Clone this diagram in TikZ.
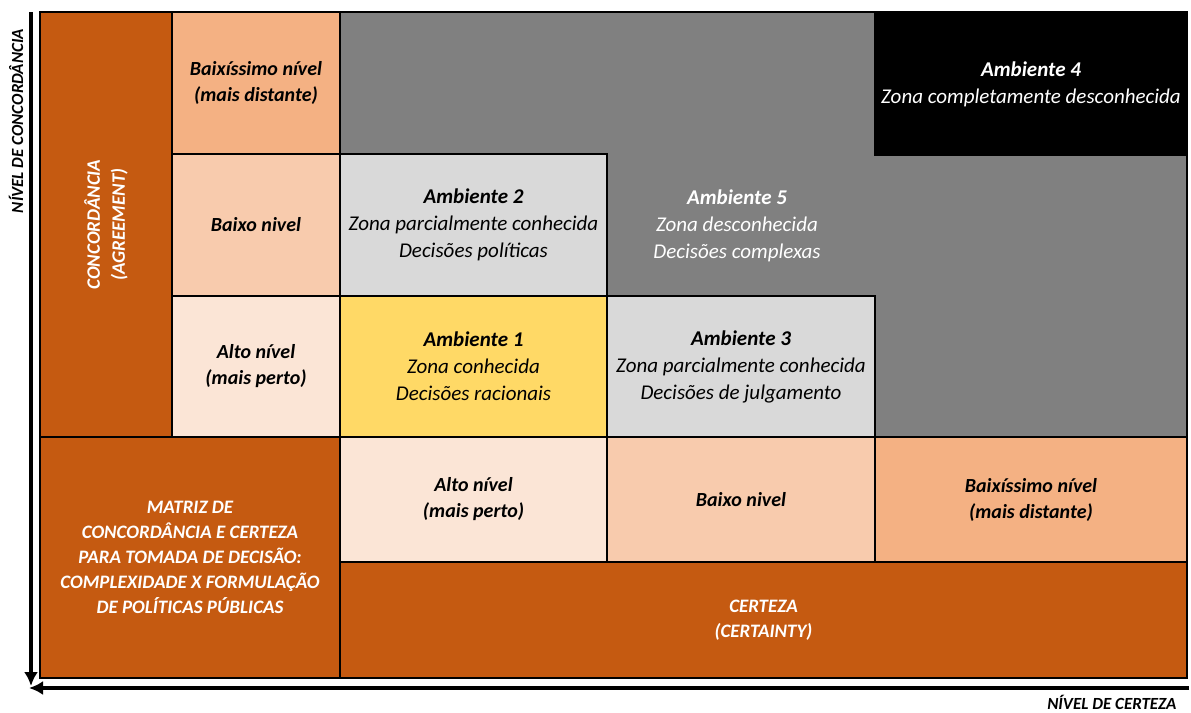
\documentclass[tikz,border=0pt]{standalone}
\usepackage{fontspec}
\setmainfont{Carlito}
\usetikzlibrary{positioning, arrows, arrows.meta}
\definecolor{rust}{HTML}{C55A11}
\definecolor{peachdark}{HTML}{F4B183}
\definecolor{peachmid}{HTML}{F8CBAD}
\definecolor{peachlight}{HTML}{FBE5D6}
\definecolor{zonegray}{HTML}{808080}
\definecolor{palegray}{HTML}{D9D9D9}
\definecolor{knownzone}{HTML}{FFD966}
\tikzset{
 cell/.style={draw, shape=rectangle, line width=2pt, inner sep=0pt, align=center,
    font=\fontsize{21}{27}\selectfont\itshape}
}

\begin{document}
\begin{tikzpicture}[x=1pt, y=-1pt]
\tikzstyle{lvl}=[cell, font=\fontsize{20}{26}\selectfont\bfseries\itshape]
\tikzstyle{caps}=[cell, fill=rust, text=white, font=\fontsize{19}{25}\selectfont\bfseries\itshape]
\tikzstyle{env}=[cell, minimum width=267pt, minimum height=142pt]
\tikzstyle{axis}=[-{Latex[length=14pt,width=14pt]}, line width=4pt]
\tikzstyle{axislabel}=[font=\fontsize{17}{20}\selectfont\bfseries\itshape]
\useasboundingbox (0,0) rectangle (1191,712);
% 1. Left and bottom headers
%%%%%%%%%%
\node[caps, rotate=90, minimum width=425pt, minimum height=132pt] (agree) at (106,224.5) {CONCORDÂNCIA\\(AGREEMENT)};
\node[lvl, fill=peachdark, minimum width=168pt, minimum height=142pt] (agreelow) at (256,83) {Baixíssimo nível\\(mais distante)};
\node[lvl, fill=peachmid, minimum width=168pt, minimum height=142pt] (agreemid) at (256,225) {Baixo nivel};
\node[lvl, fill=peachlight, minimum width=168pt, minimum height=141pt] (agreehigh) at (256,366.5) {Alto nível\\(mais perto)};
\node[caps, minimum width=300pt, minimum height=241pt] (matrix) at (190,557.5) {MATRIZ DE\\CONCORDÂNCIA E CERTEZA\\PARA TOMADA DE DECISÃO:\\COMPLEXIDADE X FORMULAÇÃO\\DE POLÍTICAS PÚBLICAS};
\node[lvl, fill=peachlight, minimum width=267pt, minimum height=125pt] (certhigh) at (473.5,499.5) {Alto nível\\(mais perto)};
\node[lvl, fill=peachmid, minimum width=268pt, minimum height=125pt] (certmid) at (741,499.5) {Baixo nivel};
\node[lvl, fill=peachdark, minimum width=312pt, minimum height=125pt] (certlow) at (1031,499.5) {Baixíssimo nível\\(mais distante)};
\node[caps, minimum width=847pt, minimum height=116pt] (certainty) at (763.5,620) {CERTEZA\\(CERTAINTY)};

% 2. Environments
%%%%%%%%%%
\node[cell, fill=zonegray, minimum width=847pt, minimum height=425pt] (unknown) at (763.5,224.5) {};
\node[cell, fill=black, text=white, minimum width=312pt, minimum height=142pt] (env4) at (1031,84) {\textbf{Ambiente 4}\\Zona completamente desconhecida};
\node[env, fill=palegray] (env2) at (473.5,225) {\textbf{Ambiente 2}\\Zona parcialmente conhecida\\Decisões políticas};
\node[env, fill=knownzone, minimum height=141pt] (env1) at (473.5,366.5) {\textbf{Ambiente 1}\\Zona conhecida\\Decisões racionais};
\node[env, fill=palegray, minimum width=268pt, minimum height=141pt] (env3) at (741,366.5) {\textbf{Ambiente 3}\\Zona parcialmente conhecida\\Decisões de julgamento};
\node[cell, draw=none, text=white] (env5) at (737,226) {\textbf{Ambiente 5}\\Zona desconhecida\\Decisões complexas};

% 3. Axes
%%%%%%%%%%%
\coordinate (agreetop) at (31,12);
\coordinate (agreeend) at (31,686);
\coordinate (certright) at (1189,688);
\coordinate (certend) at (29,688);
\draw[axis] (agreetop) -- (agreeend);
\draw[axis] (certright) -- (certend);
\node[axislabel, rotate=90] (agreename) at (16,121) {NÍVEL DE CONCORDÂNCIA};
\node[axislabel, anchor=east] (certname) at (1180,702) {NÍVEL DE CERTEZA};

\end{tikzpicture}
\end{document}
